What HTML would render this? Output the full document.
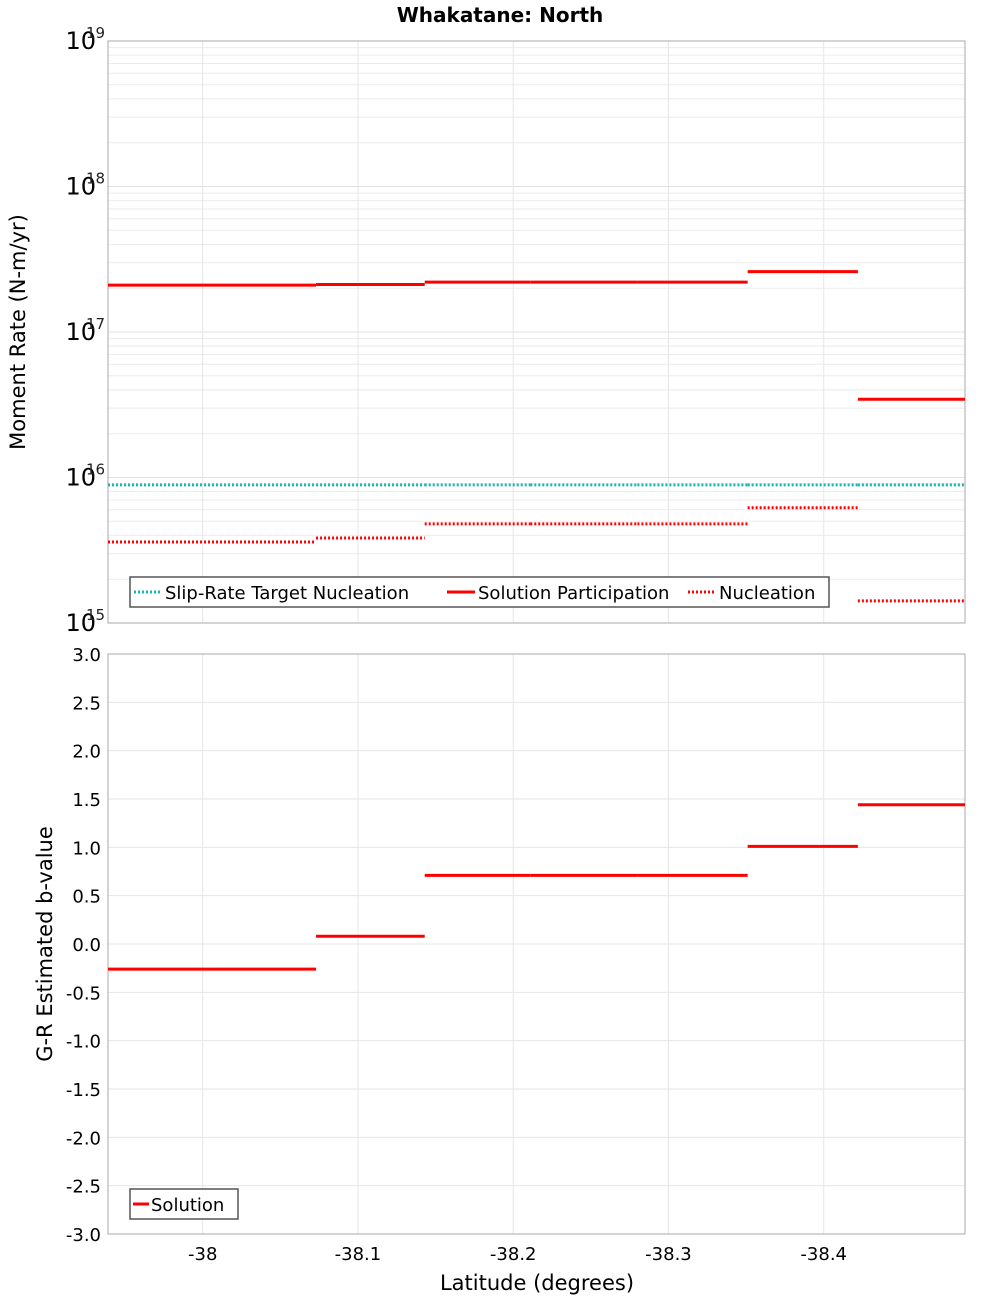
<!DOCTYPE html>
<html><head><meta charset="utf-8"><style>
body{margin:0;background:#fff;}
svg{display:block;font-family:"DejaVu Sans","Liberation Sans",sans-serif;}
</style></head><body>
<svg id="chart" width="1000" height="1300" viewBox="0 0 1000 1300"></svg>
<script>
const segEdges = [-37.939, -38.006, -38.073, -38.143, -38.211, -38.280, -38.351, -38.422, -38.491];
const participation = [2.1e17, 2.1e17, 2.12e17, 2.2e17, 2.2e17, 2.2e17, 2.6e17, 3.45e16];
const targetNucleation = [8.9e15, 8.9e15, 8.9e15, 8.9e15, 8.9e15, 8.9e15, 8.9e15, 8.9e15];
const nucleation = [3.6e15, 3.6e15, 3.84e15, 4.8e15, 4.8e15, 4.8e15, 6.2e15, 1.42e15];
const bValues = [-0.26, -0.26, 0.08, 0.71, 0.71, 0.71, 1.01, 1.44];
const xTicks = [-38, -38.1, -38.2, -38.3, -38.4];
const xTickLabels = ["-38", "-38.1", "-38.2", "-38.3", "-38.4"];
const logDecades = [15, 16, 17, 18, 19];
const bTicks = [3.0, 2.5, 2.0, 1.5, 1.0, 0.5, 0.0, -0.5, -1.0, -1.5, -2.0, -2.5, -3.0];

const NS = "http://www.w3.org/2000/svg";
const svg = document.getElementById("chart");
function mk(tag, attrs, parent, text){
  const e = document.createElementNS(NS, tag);
  for (const k in attrs) e.setAttribute(k, attrs[k]);
  if (text !== undefined) e.textContent = text;
  (parent || svg).appendChild(e);
  return e;
}
const L = 108, R = 965;
const xMin = -37.939, xMax = -38.491;
const xs = v => L + (v - xMin) / (xMax - xMin) * (R - L);
const T1 = 41, B1 = 623;
const yLog = v => B1 - (Math.log10(v) - 15) / 4 * (B1 - T1);
const T2 = 654, B2 = 1234;
const yB = v => B2 - (v + 3) / 6 * (B2 - T2);

let t = mk("text", {x: 500, y: 22, "text-anchor": "middle", "font-size": 20, "font-weight": "bold"}, svg, "Whakatane: North");



const g1 = mk("g", {});


for (let d = 15; d < 19; d++) {
  for (let m = 2; m <= 9; m++) {
    const y = yLog(m * Math.pow(10, d));
    const l = mk("line", {x1: L, x2: R, y1: y, y2: y, stroke: "#ebebeb", "stroke-width": 1}, g1);
    
    
  }
}
logDecades.forEach(d => {
  const y = yLog(Math.pow(10, d));
  const l = mk("line", {x1: L, x2: R, y1: y, y2: y, stroke: "#e0e0e0"}, g1);
  
  
  const tx = mk("text", {x: 96, y: y + 8, "text-anchor": "end", "font-size": 24}, g1, "10");
  
  
  const sp = mk("text", {x: 86, y: y - 3, "font-size": 15, fill: "#222"}, g1, String(d));
  
  
});
xTicks.forEach(v => {
  const l = mk("line", {x1: xs(v), x2: xs(v), y1: T1, y2: B1, stroke: "#e6e6e6"}, g1);
  
  
});
let fr = mk("rect", {x: L, y: T1, width: R - L, height: B1 - T1, fill: "none", stroke: "#aaa"}, g1);


function drawSeries(arr, yf, color, dash, name, g) {
  arr.forEach((v, i) => {
    const y = yf(v);
    const a = {x1: xs(segEdges[i]), x2: xs(segEdges[i + 1]), y1: y, y2: y, stroke: color, "stroke-width": 3};
    if (dash) a["stroke-dasharray"] = "2,2";
    const l = mk("line", a, g);
    
    
  });
}
drawSeries(targetNucleation, yLog, "#1ab5b5", true, "target-nucleation-segment", g1);
drawSeries(participation, yLog, "#ff0000", false, "participation-segment", g1);
drawSeries(nucleation, yLog, "#ff0000", true, "nucleation-segment", g1);
t = mk("text", {x: 25, y: 332, "text-anchor": "middle", "font-size": 21, transform: "rotate(-90 25 332)"}, g1, "Moment Rate (N-m/yr)");


const lg = mk("g", {});


mk("rect", {x: 130, y: 577, width: 699, height: 30, fill: "#fff", stroke: "#555", "stroke-width": 1.5}, lg);
const items = [[134, "#1ab5b5", true, "Slip-Rate Target Nucleation"], [447, "#ff0000", false, "Solution Participation"], [688, "#ff0000", true, "Nucleation"]];
items.forEach(it => {
  const a = {x1: it[0], x2: it[0] + 28, y1: 592, y2: 592, stroke: it[1], "stroke-width": 3};
  if (it[2]) a["stroke-dasharray"] = "2,2";
  const l = mk("line", a, lg);
  
  
  const tx = mk("text", {x: it[0] + 31, y: 599, "font-size": 18}, lg, it[3]);
  
  
});

const g2 = mk("g", {});


bTicks.forEach(v => {
  const y = yB(v);
  const l = mk("line", {x1: L, x2: R, y1: y, y2: y, stroke: "#e6e6e6"}, g2);
  
  
  const tx = mk("text", {x: 101, y: y + 7, "text-anchor": "end", "font-size": 18}, g2, v.toFixed(1));
  
  
});
xTicks.forEach((v, i) => {
  const l = mk("line", {x1: xs(v), x2: xs(v), y1: T2, y2: B2, stroke: "#e6e6e6"}, g2);
  
  
  const tx = mk("text", {x: xs(v), y: 1260, "text-anchor": "middle", "font-size": 18}, g2, xTickLabels[i]);
  
  
});
fr = mk("rect", {x: L, y: T2, width: R - L, height: B2 - T2, fill: "none", stroke: "#aaa"}, g2);


drawSeries(bValues, yB, "#ff0000", false, "b-value-segment", g2);
t = mk("text", {x: 52, y: 944, "text-anchor": "middle", "font-size": 21, transform: "rotate(-90 52 944)"}, g2, "G-R Estimated b-value");


t = mk("text", {x: 537, y: 1290, "text-anchor": "middle", "font-size": 21}, g2, "Latitude (degrees)");


const lg2 = mk("g", {});


mk("rect", {x: 130, y: 1189, width: 108, height: 30, fill: "#fff", stroke: "#555", "stroke-width": 1.5}, lg2);
let sw = mk("line", {x1: 133, x2: 149, y1: 1204, y2: 1204, stroke: "#ff0000", "stroke-width": 3}, lg2);


t = mk("text", {x: 151, y: 1211, "font-size": 18}, lg2, "Solution");


</script>
</body></html>
